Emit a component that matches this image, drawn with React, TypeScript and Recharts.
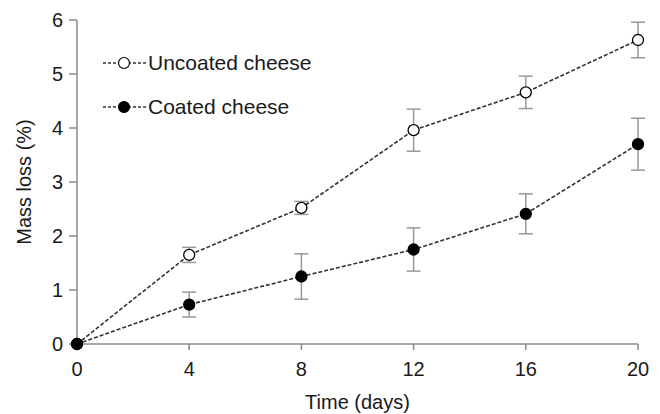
import { LineChart, Line, XAxis, YAxis, ErrorBar } from 'recharts';

const days = [0, 4, 8, 12, 16, 20];
const uncoated = [0, 1.65, 2.52, 3.96, 4.66, 5.63];
const uncoatedErr = [0, 0.14, 0.12, 0.39, 0.3, 0.33];
const coated = [0, 0.73, 1.25, 1.75, 2.41, 3.7];
const coatedErr = [0, 0.23, 0.42, 0.4, 0.37, 0.48];
const xTicks = [0, 4, 8, 12, 16, 20];
const yTicks = [0, 1, 2, 3, 4, 5, 6];

const data = days.map((d, i) => ({
  day: d,
  uncoated: uncoated[i],
  uncoatedErr: uncoatedErr[i],
  coated: coated[i],
  coatedErr: coatedErr[i],
}));

const font = '"Liberation Sans", Arial, sans-serif';
const axisColor = '#8a8a8a';
const lineColor = '#333';

const legendItems = [
  { label: 'Uncoated cheese', fill: '#fff' },
  { label: 'Coated cheese', fill: '#000' },
];

// legend sits inside the plot, so it is an overlay and takes no room from the chart
function LegendBox() {
  return (
    <div style={{ position: 'absolute', left: 103, top: 41, fontFamily: font }}>
      {legendItems.map((it) => (
        <div key={it.label} style={{ display: 'flex', alignItems: 'center', height: 44 }}>
          <svg width={45} height={14}>
            <line x1={0} y1={7} x2={45} y2={7} stroke={lineColor} strokeWidth={1.3} strokeDasharray="3 2" />
            <circle cx={21} cy={7} r={5.5} fill={it.fill} stroke="#000" strokeWidth={1.2} />
          </svg>
          <span style={{ fontSize: 21, color: '#1a1a1a', marginLeft: 0 }}>{it.label}</span>
        </div>
      ))}
    </div>
  );
}

export default function App() {
  return (
    <div style={{ position: 'absolute', left: 0, top: 0, width: 660, height: 414, background: '#fff' }}>
      <LineChart width={660} height={414} data={data} margin={{ top: 20, right: 22, bottom: 0, left: 0 }}>
        <XAxis
          dataKey="day"
          type="number"
          domain={[0, 20]}
          ticks={xTicks}
          stroke={axisColor}
          strokeWidth={1.5}
          tickSize={6}
          tickMargin={12}
          height={70}
          tick={{ fill: '#1a1a1a', fontSize: 20, fontFamily: font }}
          label={{ value: 'Time (days)', position: 'insideBottom', offset: 5, fill: '#1a1a1a', fontSize: 20, fontFamily: font }}
        />
        <YAxis
          type="number"
          domain={[0, 6]}
          ticks={yTicks}
          stroke={axisColor}
          strokeWidth={1.5}
          tickSize={8}
          tickMargin={6}
          width={77}
          tick={{ fill: '#1a1a1a', fontSize: 20, fontFamily: font }}
          label={{ value: 'Mass loss (%)', angle: -90, position: 'insideLeft', offset: 24, fill: '#1a1a1a', fontSize: 20, fontFamily: font, style: { textAnchor: 'middle' } }}
        />
        <Line
          dataKey="uncoated"
          stroke={lineColor}
          strokeWidth={1.6}
          strokeDasharray="4 2"
          isAnimationActive={false}
          dot={{ r: 5.5, fill: '#fff', stroke: '#000', strokeWidth: 1.3, strokeDasharray: '0' }}
        >
          <ErrorBar dataKey="uncoatedErr" width={7} stroke="#999" strokeWidth={1.5} direction="y" />
        </Line>
        <Line
          dataKey="coated"
          stroke={lineColor}
          strokeWidth={1.6}
          strokeDasharray="4 2"
          isAnimationActive={false}
          dot={{ r: 5.5, fill: '#000', stroke: '#000', strokeWidth: 1.3, strokeDasharray: '0' }}
        >
          <ErrorBar dataKey="coatedErr" width={7} stroke="#999" strokeWidth={1.5} direction="y" />
        </Line>
      </LineChart>
      <LegendBox />
    </div>
  );
}
